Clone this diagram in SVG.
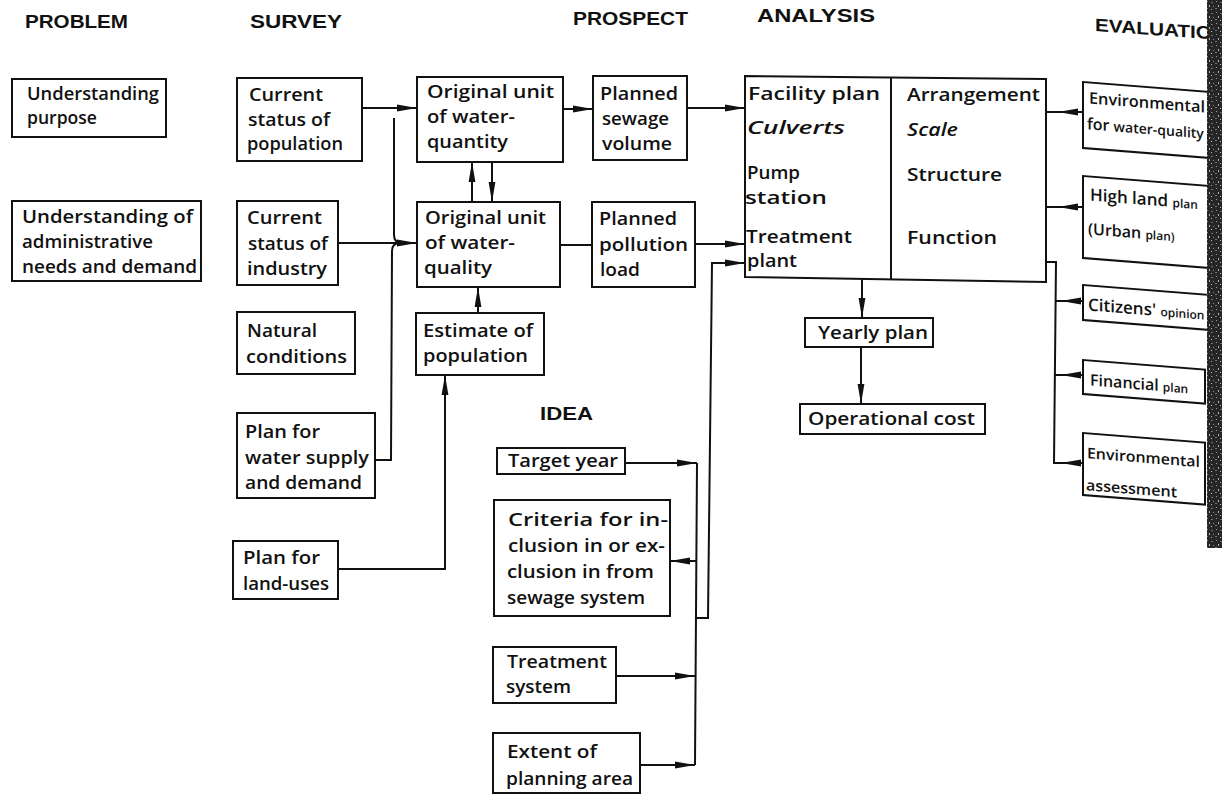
<svg xmlns="http://www.w3.org/2000/svg" width="1222" height="795" viewBox="0 0 1222 795">
  <defs>
    <style>
      .t { font-family: "Open Sans", "Liberation Sans", sans-serif; font-size: 18px; font-weight: 600; fill: #111; }
      .it { font-style: italic; }
      .h { font-family: "Liberation Sans", Arial, sans-serif; font-weight: bold; font-size: 18px; fill: #111; }
      .box { fill: #fff; stroke: #111; stroke-width: 2; }
      .ln { fill: none; stroke: #111; stroke-width: 2; }
      .arr { fill: none; stroke: #111; stroke-width: 2; marker-end: url(#ah); }
    </style>
    <marker id="ah" viewBox="0 0 20 8" markerWidth="20" markerHeight="8" refX="20" refY="4" orient="auto" markerUnits="userSpaceOnUse">
      <path d="M0,0.6 L20,4 L0,7.4 Z" fill="#111"/>
    </marker>
    <!-- speckle tile for the dark page edge -->
    <pattern id="speckle" patternUnits="userSpaceOnUse" x="0" y="0" width="9" height="11">
      <rect width="9" height="11" fill="#262626"/>
      <rect x="1" y="1" width="1" height="1" fill="#9a9a9a"/>
      <rect x="5" y="2" width="2" height="1" fill="#6e6e6e"/>
      <rect x="3" y="5" width="1" height="2" fill="#b4b4b4"/>
      <rect x="7" y="6" width="1" height="1" fill="#888"/>
      <rect x="0" y="8" width="2" height="1" fill="#777"/>
      <rect x="5" y="9" width="1" height="1" fill="#c0c0c0"/>
    </pattern>
  </defs>

  <rect width="1222" height="795" fill="#fff"/>

  <!-- column headings -->
  <g id="headings">
    <text class="h" x="25" y="28" textLength="103" lengthAdjust="spacingAndGlyphs">PROBLEM</text>
    <text class="h" x="250" y="28" textLength="92" lengthAdjust="spacingAndGlyphs">SURVEY</text>
    <text class="h" x="573" y="25" textLength="115" lengthAdjust="spacingAndGlyphs">PROSPECT</text>
    <text class="h" x="757" y="22" textLength="118" lengthAdjust="spacingAndGlyphs">ANALYSIS</text>
    <g transform="translate(1095,31) skewY(4)">
      <text class="h" x="0" y="0" textLength="132" lengthAdjust="spacingAndGlyphs">EVALUATION</text>
    </g>
    <text class="h" x="540" y="420" textLength="53" lengthAdjust="spacingAndGlyphs">IDEA</text>
  </g>

  <!-- connectors -->
  <g id="connectors">
    <path class="arr" d="M362,108 L417,108"/>
    <path class="arr" d="M338,243 L417,243"/>
    <path class="ln" d="M375,460 L391,460 L392,251 Q392,243 400,243"/>
    <path class="ln" d="M394,118 L394,235 Q394,243 402,243"/>
    <path class="arr" d="M563,109 L593,109"/>
    <path class="arr" d="M687,108 L745,108"/>
    <path class="ln" d="M560,245 L592,245"/>
    <path class="arr" d="M695,244 L745,244"/>
    <path class="arr" d="M472,202 L472,162"/>
    <path class="arr" d="M492,162 L492,202"/>
    <path class="arr" d="M478,313 L478,287"/>
    <path class="arr" d="M338,569 L445,569 L445,375"/>
    <path class="arr" d="M862,279 L862,318"/>
    <path class="arr" d="M861,347 L861,404"/>
    <!-- evaluation links -->
    <path class="ln" d="M1046,112 L1083,112"/>
    <path class="arr" d="M1078,112 L1058,112"/>
    <path class="ln" d="M1046,207 L1083,207"/>
    <path class="arr" d="M1078,207 L1058,207"/>
    <path class="ln" d="M1046,262 L1056,262 L1054,463 L1083,463"/>
    <path class="arr" d="M1079,463 L1061,463"/>
    <path class="ln" d="M1055,301 L1083,301"/>
    <path class="arr" d="M1079,301 L1061,301"/>
    <path class="ln" d="M1055,375 L1083,375"/>
    <path class="arr" d="M1079,375 L1061,375"/>
    <!-- idea bus -->
    <path class="arr" d="M625,463 L697,463"/>
    <path class="ln" d="M697,463 L695,765"/>
    <path class="arr" d="M697,561 L670,561"/>
    <path class="arr" d="M616,676 L695,676"/>
    <path class="arr" d="M640,765 L695,765"/>
    <path class="arr" d="M696,618 L708,618 L712,263 L745,263"/>
  </g>

  <!-- PROBLEM -->
  <g id="understanding-purpose">
    <rect class="box" x="12" y="79" width="154" height="58"/>
    <text class="t" x="27" y="100" textLength="132" lengthAdjust="spacingAndGlyphs">Understanding</text>
    <text class="t" x="27" y="124" textLength="70" lengthAdjust="spacingAndGlyphs">purpose</text>
  </g>
  <g id="understanding-needs">
    <rect class="box" x="12" y="201" width="189" height="80"/>
    <text class="t" x="22" y="223" textLength="171" lengthAdjust="spacingAndGlyphs">Understanding of</text>
    <text class="t" x="22" y="248" textLength="131" lengthAdjust="spacingAndGlyphs">administrative</text>
    <text class="t" x="22" y="273" textLength="175" lengthAdjust="spacingAndGlyphs">needs and demand</text>
  </g>

  <!-- SURVEY -->
  <g id="status-population">
    <rect class="box" x="237" y="78" width="125" height="83"/>
    <text class="t" x="249" y="101" textLength="74" lengthAdjust="spacingAndGlyphs">Current</text>
    <text class="t" x="248" y="126" textLength="82" lengthAdjust="spacingAndGlyphs">status of</text>
    <text class="t" x="247" y="150" textLength="96" lengthAdjust="spacingAndGlyphs">population</text>
  </g>
  <g id="status-industry">
    <rect class="box" x="237" y="201" width="101" height="84"/>
    <text class="t" x="247" y="224" textLength="75" lengthAdjust="spacingAndGlyphs">Current</text>
    <text class="t" x="248" y="250" textLength="80" lengthAdjust="spacingAndGlyphs">status of</text>
    <text class="t" x="247" y="275" textLength="80" lengthAdjust="spacingAndGlyphs">industry</text>
  </g>
  <g id="natural-conditions">
    <rect class="box" x="237" y="312" width="118" height="62"/>
    <text class="t" x="247" y="337" textLength="70" lengthAdjust="spacingAndGlyphs">Natural</text>
    <text class="t" x="246" y="363" textLength="101" lengthAdjust="spacingAndGlyphs">conditions</text>
  </g>
  <g id="water-supply-plan">
    <rect class="box" x="237" y="413" width="138" height="85"/>
    <text class="t" x="245" y="438" textLength="75" lengthAdjust="spacingAndGlyphs">Plan for</text>
    <text class="t" x="245" y="464" textLength="124" lengthAdjust="spacingAndGlyphs">water supply</text>
    <text class="t" x="245" y="489" textLength="117" lengthAdjust="spacingAndGlyphs">and demand</text>
  </g>
  <g id="land-use-plan">
    <rect class="box" x="233" y="541" width="105" height="58"/>
    <text class="t" x="243" y="564" textLength="77" lengthAdjust="spacingAndGlyphs">Plan for</text>
    <text class="t" x="243" y="590" textLength="86" lengthAdjust="spacingAndGlyphs">land-uses</text>
  </g>

  <!-- PROSPECT -->
  <g id="unit-quantity">
    <rect class="box" x="417" y="77" width="146" height="85"/>
    <text class="t" x="427" y="98" textLength="127" lengthAdjust="spacingAndGlyphs">Original  unit</text>
    <text class="t" x="427" y="123" textLength="88" lengthAdjust="spacingAndGlyphs">of water-</text>
    <text class="t" x="427" y="148" textLength="81" lengthAdjust="spacingAndGlyphs">quantity</text>
  </g>
  <g id="unit-quality">
    <rect class="box" x="417" y="202" width="143" height="85"/>
    <text class="t" x="425" y="224" textLength="121" lengthAdjust="spacingAndGlyphs">Original unit</text>
    <text class="t" x="425" y="249" textLength="90" lengthAdjust="spacingAndGlyphs">of water-</text>
    <text class="t" x="424" y="274" textLength="68" lengthAdjust="spacingAndGlyphs">quality</text>
  </g>
  <g id="population-estimate">
    <rect class="box" x="416" y="313" width="128" height="62"/>
    <text class="t" x="423" y="337" textLength="110" lengthAdjust="spacingAndGlyphs">Estimate of</text>
    <text class="t" x="423" y="362" textLength="105" lengthAdjust="spacingAndGlyphs">population</text>
  </g>
  <g id="sewage-volume">
    <rect class="box" x="593" y="76" width="94" height="84"/>
    <text class="t" x="600" y="100" textLength="78" lengthAdjust="spacingAndGlyphs">Planned</text>
    <text class="t" x="602" y="125" textLength="67" lengthAdjust="spacingAndGlyphs">sewage</text>
    <text class="t" x="602" y="150" textLength="70" lengthAdjust="spacingAndGlyphs">volume</text>
  </g>
  <g id="pollution-load">
    <rect class="box" x="592" y="202" width="103" height="85"/>
    <text class="t" x="599" y="225" textLength="78" lengthAdjust="spacingAndGlyphs">Planned</text>
    <text class="t" x="599" y="251" textLength="89" lengthAdjust="spacingAndGlyphs">pollution</text>
    <text class="t" x="600" y="276" textLength="40" lengthAdjust="spacingAndGlyphs">load</text>
  </g>

  <!-- ANALYSIS -->
  <g id="facility-plan">
    <path class="box" d="M745,76 L1046,79 L1046,282 L745,277 Z"/>
    <path class="ln" d="M891,77.5 L891,279.5"/>
    <text class="t" x="748" y="100" textLength="132" lengthAdjust="spacingAndGlyphs">Facility plan</text>
    <text class="t it" x="747" y="134" textLength="98" lengthAdjust="spacingAndGlyphs">Culverts</text>
    <text class="t" x="747" y="179" textLength="53" lengthAdjust="spacingAndGlyphs">Pump</text>
    <text class="t" x="745" y="204" textLength="82" lengthAdjust="spacingAndGlyphs">station</text>
    <text class="t" x="746" y="243" textLength="106" lengthAdjust="spacingAndGlyphs">Treatment</text>
    <text class="t" x="747" y="267" textLength="50" lengthAdjust="spacingAndGlyphs">plant</text>
    <text class="t" x="907" y="101" textLength="133" lengthAdjust="spacingAndGlyphs">Arrangement</text>
    <text class="t it" x="907" y="136" textLength="51" lengthAdjust="spacingAndGlyphs">Scale</text>
    <text class="t" x="907" y="181" textLength="95" lengthAdjust="spacingAndGlyphs">Structure</text>
    <text class="t" x="907" y="244" textLength="90" lengthAdjust="spacingAndGlyphs">Function</text>
  </g>
  <g id="yearly-plan">
    <rect class="box" x="805" y="318" width="128" height="29"/>
    <text class="t" x="818" y="339" textLength="110" lengthAdjust="spacingAndGlyphs">Yearly plan</text>
  </g>
  <g id="operational-cost">
    <rect class="box" x="800" y="404" width="185" height="30"/>
    <text class="t" x="808" y="425" textLength="167" lengthAdjust="spacingAndGlyphs">Operational cost</text>
  </g>

  <!-- IDEA -->
  <g id="target-year">
    <rect class="box" x="497" y="448" width="128" height="26"/>
    <text class="t" x="508" y="467" textLength="110" lengthAdjust="spacingAndGlyphs">Target year</text>
  </g>
  <g id="criteria">
    <rect class="box" x="494" y="500" width="176" height="116"/>
    <text class="t" x="508" y="526" textLength="160" lengthAdjust="spacingAndGlyphs">Criteria for in-</text>
    <text class="t" x="508" y="552" textLength="157" lengthAdjust="spacingAndGlyphs">clusion in or ex-</text>
    <text class="t" x="507" y="578" textLength="147" lengthAdjust="spacingAndGlyphs">clusion in from</text>
    <text class="t" x="507" y="604" textLength="138" lengthAdjust="spacingAndGlyphs">sewage system</text>
  </g>
  <g id="treatment-system">
    <rect class="box" x="493" y="647" width="123" height="56"/>
    <text class="t" x="507" y="668" textLength="100" lengthAdjust="spacingAndGlyphs">Treatment</text>
    <text class="t" x="506" y="693" textLength="65" lengthAdjust="spacingAndGlyphs">system</text>
  </g>
  <g id="planning-area">
    <rect class="box" x="493" y="733" width="147" height="60"/>
    <text class="t" x="507" y="758" textLength="90" lengthAdjust="spacingAndGlyphs">Extent of</text>
    <text class="t" x="506" y="785" textLength="127" lengthAdjust="spacingAndGlyphs">planning area</text>
  </g>

  <!-- EVALUATION -->
  <g id="env-water-quality" transform="translate(1083,82) skewY(4.5)">
    <rect class="box" x="0" y="0" width="135" height="66"/>
    <text class="t" x="6" y="21" style="font-size:16px" textLength="116" lengthAdjust="spacingAndGlyphs">Environmental</text>
    <text class="t" x="4" y="47" style="font-size:16px">for <tspan style="font-size:14px">water-quality</tspan></text>
  </g>
  <g id="high-land-plan" transform="translate(1083,176) skewY(4.5)">
    <rect class="box" x="0" y="0" width="125" height="82"/>
    <text class="t" x="7" y="24" style="font-size:17px">High land <tspan style="font-size:12px">plan</tspan></text>
    <text class="t" x="5" y="58" style="font-size:16px">(Urban <tspan style="font-size:12px">plan)</tspan></text>
  </g>
  <g id="citizens-opinion" transform="translate(1083,285) skewY(4.5)">
    <rect class="box" x="0" y="0" width="135" height="35"/>
    <text class="t" x="5" y="25" style="font-size:17px">Citizens' <tspan style="font-size:12px">opinion</tspan></text>
  </g>
  <g id="financial-plan" transform="translate(1083,360) skewY(4.5)">
    <rect class="box" x="0" y="0" width="122" height="34"/>
    <text class="t" x="7" y="25" style="font-size:16px">Financial <tspan style="font-size:12px">plan</tspan></text>
  </g>
  <g id="env-assessment" transform="translate(1083,433) skewY(4.5)">
    <rect class="box" x="0" y="0" width="122" height="62"/>
    <text class="t" x="4" y="25" style="font-size:15px" textLength="113" lengthAdjust="spacingAndGlyphs">Environmental</text>
    <text class="t" x="3" y="57" style="font-size:15px" textLength="91" lengthAdjust="spacingAndGlyphs">assessment</text>
  </g>

  <!-- dark grainy page edge -->
  <g id="page-edge">
    <rect x="1207" y="0" width="15" height="548" fill="#262626"/>
    <rect x="1207" y="0" width="15" height="548" fill="url(#speckle)"/>
  </g>
</svg>
